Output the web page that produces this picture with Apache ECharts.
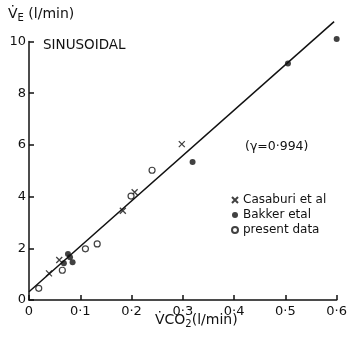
<!DOCTYPE html>
<html>
<head>
<meta charset="utf-8">
<script src="https://cdn.jsdelivr.net/npm/echarts@6/dist/echarts.min.js"></script>
<style>
  html, body { margin: 0; padding: 0; background: #fff; }
  #chart { width: 350px; height: 338px; }
</style>
</head>
<body>
<div id="chart"></div>
<script>
// values (VCO2 in l/min, VE in l/min)
const casaburiData = [[0.039, 1.03], [0.059, 1.55], [0.183, 3.45], [0.206, 4.17], [0.298, 6.03]];
const bakkerData = [[0.068, 1.42], [0.076, 1.78], [0.080, 1.65], [0.085, 1.46], [0.319, 5.34], [0.505, 9.15], [0.6, 10.1]];
const presentData = [[0.019, 0.45], [0.065, 1.15], [0.11, 1.98], [0.133, 2.17], [0.199, 4.02], [0.24, 5.02]];
// regression line end points
const fitLine = [[0, 0.32], [0.595, 10.77]];

const seriesNames = ['Casaburi et al', 'Bakker etal', 'present data'];
const FONT = 'DejaVu Sans';
const INK = '#111';

// 0.1 -> 0·1 like the printed labels
const dotLabel = v => String(v).replace('.', '·');

const crossPath = 'path://M0,0L10,10M10,0L0,10';

const myChart = echarts.init(document.getElementById('chart'));
myChart.setOption({
  animation: false,
  textStyle: { fontFamily: FONT, color: INK },
  grid: { left: 29, right: 10, top: 41.5, bottom: 38 },
  xAxis: {
    type: 'value',
    min: 0,
    max: 0.6,
    interval: 0.1,
    splitLine: { show: false },
    axisLine: { lineStyle: { color: INK, width: 1.5 } },
    axisTick: { inside: true, length: 5, lineStyle: { color: INK, width: 1.5 } },
    axisLabel: { color: INK, fontSize: 13, margin: 5, formatter: dotLabel, showMaxLabel: true }
  },
  yAxis: {
    type: 'value',
    min: 0,
    max: 10,
    interval: 2,
    splitLine: { show: false },
    axisLine: { lineStyle: { color: INK, width: 1.5 } },
    axisTick: { inside: true, length: 5, lineStyle: { color: INK, width: 1.5 } },
    axisLabel: { color: INK, fontSize: 13, margin: 3 }
  },
  legend: {
    orient: 'vertical',
    left: 226,
    top: 189,
    itemWidth: 6,
    itemHeight: 6,
    itemGap: 3,
    textStyle: { fontFamily: FONT, fontSize: 12, color: INK },
    data: seriesNames
  },
  graphic: [
    {
      type: 'text',
      left: 8,
      top: 7,
      style: {
        text: '{v|V\u0307}{s|E}{v| (l/min)}',
        rich: {
          v: { fontFamily: FONT, fontSize: 14, fill: INK },
          s: { fontFamily: FONT, fontSize: 10, fill: INK, padding: [8, 0, 0, 0] }
        }
      }
    },
    {
      type: 'text',
      left: 43,
      top: 38,
      style: { text: 'SINUSOIDAL', fontFamily: FONT, fontSize: 13.5, fill: INK }
    },
    {
      type: 'text',
      left: 245,
      top: 140,
      style: { text: '(\u03b3=0·994)', fontFamily: FONT, fontSize: 12.5, fill: INK }
    },
    {
      type: 'text',
      left: 155,
      top: 313,
      style: {
        text: '{v|V\u0307CO}{s|2}{v|(l/min)}',
        rich: {
          v: { fontFamily: FONT, fontSize: 14, fill: INK },
          s: { fontFamily: FONT, fontSize: 10, fill: INK, padding: [8, 0, 0, 0] }
        }
      }
    }
  ],
  series: [
    {
      type: 'line',
      data: fitLine,
      showSymbol: false,
      clip: false,
      silent: true,
      lineStyle: { color: INK, width: 1.5 }
    },
    {
      name: seriesNames[0],
      type: 'scatter',
      data: casaburiData,
      symbol: crossPath,
      symbolSize: 6,
      itemStyle: { color: 'rgba(0,0,0,0)', borderColor: INK, borderWidth: 1.3 }
    },
    {
      name: seriesNames[1],
      type: 'scatter',
      data: bakkerData,
      symbol: 'circle',
      symbolSize: 6,
      clip: false,
      itemStyle: { color: INK }
    },
    {
      name: seriesNames[2],
      type: 'scatter',
      data: presentData,
      symbol: 'circle',
      symbolSize: 6,
      itemStyle: { color: '#fff', borderColor: INK, borderWidth: 1.2 }
    }
  ]
});
</script>
</body>
</html>
